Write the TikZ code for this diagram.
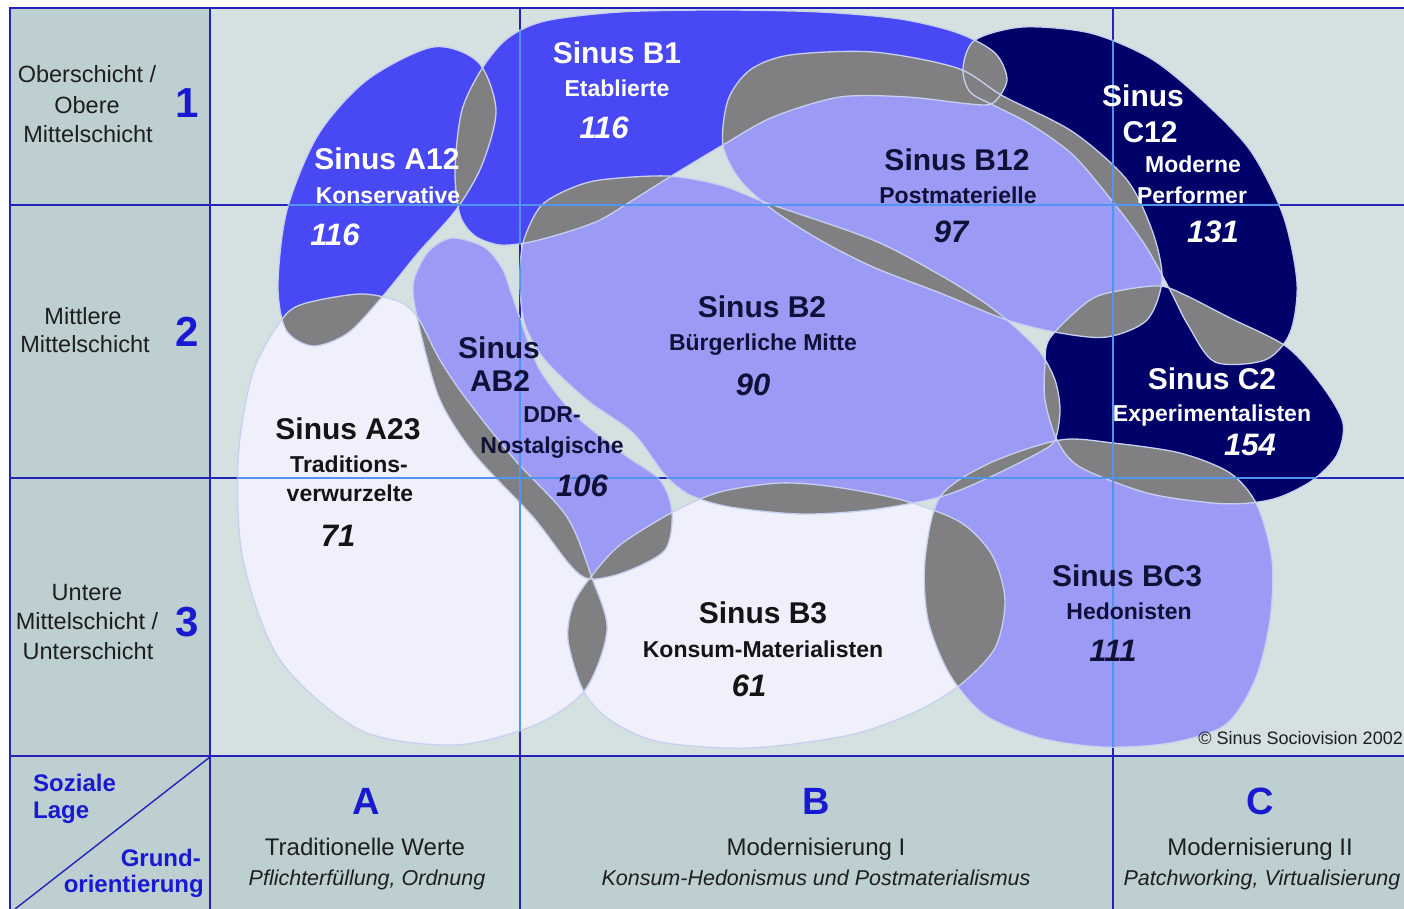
\documentclass[tikz,border=0pt]{standalone}
\usepackage{fontspec}
\setmainfont{Liberation Sans}
\definecolor{bgmain}{RGB}{212,225,224}
\definecolor{bgside}{RGB}{189,207,208}
\definecolor{royal}{RGB}{72,72,245}
\definecolor{navy}{RGB}{0,0,105}
\definecolor{lilac}{RGB}{155,155,245}
\definecolor{pale}{RGB}{240,240,252}
\definecolor{ovl}{RGB}{128,128,130}
\definecolor{edgec}{RGB}{200,208,240}
\definecolor{gridd}{RGB}{35,35,185}
\definecolor{gridl}{RGB}{80,150,240}
\definecolor{lblue}{RGB}{25,25,210}
\definecolor{dtxt}{RGB}{16,16,56}
\definecolor{btxt}{RGB}{20,20,20}
\definecolor{stxt}{RGB}{30,30,30}

% milieu outlines (pixel coordinates)
\def\pAa{plot[smooth cycle] coordinates {(433,47) (478,62) (496,110) (482,165) (456,210) (418,253) (383,296) (348,333) (313,346) (286,330) (278,285) (287,210) (318,135) (367,80)}}
\def\pBa{plot[smooth cycle] coordinates {(483,67) (508,38) (545,21) (620,12) (720,10) (820,12) (900,19) (958,33) (995,53) (1007,80) (993,103) (970,104) (907,97) (840,97) (773,117) (723,145) (673,175) (633,200) (600,220) (567,232) (530,242) (500,245) (475,236) (460,215) (455,170) (462,110)}}
\def\pBb{plot[smooth cycle] coordinates {(723,145) (728,100) (750,70) (790,55) (873,52) (957,68) (1003,96) (1073,132) (1127,180) (1153,233) (1162,280) (1147,320) (1107,337) (1060,333) (1007,320) (940,293) (873,267) (820,240) (773,210) (740,180)}}
\def\pCa{plot[smooth cycle] coordinates {(963,68) (975,40) (1023,27) (1090,33) (1150,58) (1200,98) (1250,150) (1283,215) (1297,283) (1290,333) (1265,360) (1215,362) (1188,325) (1170,290) (1145,245) (1113,202) (1073,155) (1030,124) (995,106) (970,92)}}
\def\pCb{plot[smooth cycle] coordinates {(1050,338) (1090,300) (1123,290) (1160,286) (1185,295) (1230,318) (1287,347) (1323,387) (1343,423) (1337,455) (1313,480) (1280,497) (1250,503) (1213,503) (1147,493) (1080,467) (1057,440) (1045,400) (1045,365)}}
\def\pBc{plot[smooth cycle] coordinates {(523,243) (540,207) (567,190) (600,180) (667,176) (720,185) (767,203) (873,240) (940,275) (985,303) (1015,327) (1040,352) (1055,380) (1060,410) (1055,440) (1040,452) (990,477) (940,497) (870,510) (800,514) (730,507) (690,495) (665,475) (633,433) (587,400) (545,360) (525,325) (520,285)}}
\def\pAB{plot[smooth cycle] coordinates {(452,238) (484,247) (502,268) (512,295) (523,327) (540,370) (575,415) (625,455) (660,480) (672,512) (665,550) (625,572) (590,579) (570,565) (533,517) (475,455) (440,400) (420,330) (413,285) (428,252)}}
\def\pAc{plot[smooth cycle] coordinates {(300,305) (360,294) (400,302) (418,318) (440,360) (467,400) (515,460) (567,517) (592,578) (607,630) (585,690) (535,725) (455,745) (360,730) (280,660) (243,560) (238,460) (252,375) (278,325)}}
\def\pBd{plot[smooth cycle] coordinates {(590,578) (620,545) (673,512) (720,492) (780,483) (835,487) (902,500) (960,522) (992,555) (1005,600) (995,648) (960,685) (915,712) (850,735) (750,748) (660,742) (610,720) (583,690) (568,640) (573,605)}}
\def\pBC{plot[smooth cycle] coordinates {(1060,440) (1113,443) (1180,453) (1230,473) (1257,505) (1272,560) (1270,620) (1255,680) (1225,725) (1170,743) (1104,747) (1040,738) (985,715) (950,675) (928,620) (925,560) (940,497) (990,463)}}

\newcommand{\ovlap}[2]{\begin{scope}\clip #1; \fill[ovl] #2; \end{scope}}

\tikzset{
  ttl/.style={inner sep=0pt, text height=21.5pt, text depth=0pt, font=\fontsize{30}{32}\selectfont\bfseries},
  sub/.style={inner sep=0pt, text height=16.5pt, text depth=0pt, font=\fontsize{23}{26}\selectfont\bfseries},
  num/.style={inner sep=0pt, text height=22pt, text depth=0pt, font=\fontsize{31}{34}\selectfont\bfseries\itshape},
  side/.style={inner sep=0pt, text height=17pt, text depth=0pt, text=stxt, font=\fontsize{23.5}{26}\selectfont},
  bign/.style={inner sep=0pt, text height=30pt, text depth=0pt, text=lblue, font=\fontsize{42}{44}\selectfont\bfseries},
  colh/.style={inner sep=0pt, text height=27pt, text depth=0pt, text=lblue, font=\fontsize{38}{40}\selectfont\bfseries},
  blt/.style={inner sep=0pt, text height=17pt, text depth=0pt, text=lblue, font=\fontsize{24}{26}\selectfont\bfseries},
  colsub/.style={inner sep=0pt, text height=17pt, text depth=0pt, text=stxt, font=\fontsize{24}{26}\selectfont},
  colit/.style={inner sep=0pt, text height=15.5pt, text depth=0pt, text=stxt, font=\fontsize{21.5}{24}\selectfont\itshape},
  cpy/.style={inner sep=0pt, text height=13pt, text depth=0pt, text=stxt, font=\fontsize{18}{20}\selectfont},
  edgeline/.style={draw=edgec, line width=1.3pt},
}

\begin{document}
\begin{tikzpicture}[x=1pt,y=-1pt]
\useasboundingbox (0,0) rectangle (1404,909);
\fill[white] (0,0) rectangle (1404,909);
\fill[bgside] (10,8) rectangle (210,909);
\fill[bgside] (210,756) rectangle (1404,909);
\fill[bgmain] (210,8) rectangle (1404,756);

% inner grid lines under the shapes
\draw[gridd, line width=1.4pt] (520,8) -- (520,909) (1113,8) -- (1113,909)
  (10,205) -- (1404,205) (10,478) -- (1404,478);

% milieu fills
\fill[pale] \pAc;
\fill[pale] \pBd;
\fill[lilac] \pAB;
\fill[lilac] \pBc;
\fill[lilac] \pBC;
\fill[lilac] \pBb;
\fill[royal] \pBa;
\fill[royal] \pAa;
\fill[navy] \pCa;
\fill[navy] \pCb;

% overlaps
\ovlap{\pAa}{\pBa}
\ovlap{\pAa}{\pAc}
\ovlap{\pBa}{\pBc}
\ovlap{\pBa}{\pBb}
\ovlap{\pBa}{\pCa}
\ovlap{\pBb}{\pCa}
\ovlap{\pBb}{\pBc}
\ovlap{\pBb}{\pCb}
\ovlap{\pCa}{\pCb}
\ovlap{\pBc}{\pCb}
\ovlap{\pBc}{\pAB}
\ovlap{\pBc}{\pBd}
\ovlap{\pBc}{\pBC}
\ovlap{\pCb}{\pBC}
\ovlap{\pAc}{\pAB}
\ovlap{\pAc}{\pBd}
\ovlap{\pAB}{\pBd}
\ovlap{\pBd}{\pBC}

% outlines
\path[edgeline] \pAc;
\path[edgeline] \pBd;
\path[edgeline] \pAB;
\path[edgeline] \pBc;
\path[edgeline] \pBC;
\path[edgeline] \pBb;
\path[edgeline] \pBa;
\path[edgeline] \pAa;
\path[edgeline] \pCa;
\path[edgeline] \pCb;

% light grid lines over the shapes
\begin{scope}
\clip \pAa \pBa \pBb \pCa \pCb \pBc \pAB \pAc \pBd \pBC;
\draw[gridl, line width=1.3pt] (520,8) -- (520,756) (1113,8) -- (1113,756)
  (210,205) -- (1404,205) (210,478) -- (1404,478);
\end{scope}

% frame
\draw[gridd, line width=1.6pt] (10,909) -- (10,8) -- (1404,8)
  (210,8) -- (210,909) (10,205) -- (210,205) (10,478) -- (210,478)
  (10,756) -- (1404,756) (520,756) -- (520,909) (1113,756) -- (1113,909);
\draw[gridd, line width=1.4pt] (15,909) -- (210,757);

% row labels
\node[side] (s1a) at (87,74) {Oberschicht /};
\node[side] (s1b) at (87,105) {Obere};
\node[side] (s1c) at (88,134) {Mittelschicht};
\node[bign] (n1) at (187,103) {1};
\node[side] (s2a) at (83,316) {Mittlere};
\node[side] (s2b) at (85,344) {Mittelschicht};
\node[bign] (n2) at (187,331) {2};
\node[side] (s3a) at (87,592) {Untere};
\node[side] (s3b) at (87,621) {Mittelschicht /};
\node[side] (s3c) at (88,651) {Unterschicht};
\node[bign] (n3) at (187,621) {3};

% corner labels
\node[blt, anchor=west] (soz) at (33,783) {Soziale};
\node[blt, anchor=west] (lage) at (33,810) {Lage};
\node[blt, anchor=east] (grund) at (201,858) {Grund-};
\node[blt, anchor=east] (orient) at (204,884) {orientierung};

% column labels
\node[colh] (ca) at (366,801) {A};
\node[colsub] (cat) at (365,847) {Traditionelle Werte};
\node[colit] (cai) at (367,878) {Pflichterfüllung, Ordnung};
\node[colh] (cb) at (816,801) {B};
\node[colsub] (cbt) at (816,847) {Modernisierung I};
\node[colit] (cbi) at (816,878) {Konsum-Hedonismus und Postmaterialismus};
\node[colh] (cc) at (1260,801) {C};
\node[colsub] (cct) at (1260,847) {Modernisierung II};
\node[colit] (cci) at (1262,878) {Patchworking, Virtualisierung};

\node[cpy, anchor=east] (copy) at (1403,738) {© Sinus Sociovision 2002};

% milieu labels
\node[ttl, text=white] (a12t) at (387,159) {Sinus A12};
\node[sub, text=white] (a12s) at (388,195) {Konservative};
\node[num, text=white] (a12n) at (335,235) {116};

\node[ttl, text=white] (b1t) at (617,53) {Sinus B1};
\node[sub, text=white] (b1s) at (617,88) {Etablierte};
\node[num, text=white] (b1n) at (604,128) {116};

\node[ttl, text=dtxt] (b12t) at (957,160) {Sinus B12};
\node[sub, text=dtxt] (b12s) at (958,195) {Postmaterielle};
\node[num, text=dtxt] (b12n) at (951,232) {97};

\node[ttl, text=white] (c12t) at (1143,96) {Sinus};
\node[ttl, text=white] (c12u) at (1150,132) {C12};
\node[sub, text=white] (c12s) at (1193,164) {Moderne};
\node[sub, text=white] (c12r) at (1192,195) {Performer};
\node[num, text=white] (c12n) at (1213,232) {131};

\node[ttl, text=dtxt] (b2t) at (762,307) {Sinus B2};
\node[sub, text=dtxt] (b2s) at (763,342) {Bürgerliche Mitte};
\node[num, text=dtxt] (b2n) at (753,384) {90};

\node[ttl, text=dtxt] (ab2t) at (499,348) {Sinus};
\node[ttl, text=dtxt] (ab2u) at (500,381) {AB2};
\node[sub, text=dtxt] (ab2s) at (552,414) {DDR-};
\node[sub, text=dtxt] (ab2r) at (552,445) {Nostalgische};
\node[num, text=dtxt] (ab2n) at (582,485) {106};

\node[ttl, text=btxt] (a23t) at (348,429) {Sinus A23};
\node[sub, text=btxt] (a23s) at (349,464) {Traditions-};
\node[sub, text=btxt] (a23r) at (350,493) {verwurzelte};
\node[num, text=btxt] (a23n) at (338,535) {71};

\node[ttl, text=white] (c2t) at (1212,379) {Sinus C2};
\node[sub, text=white] (c2s) at (1212,413) {Experimentalisten};
\node[num, text=white] (c2n) at (1250,444) {154};

\node[ttl, text=dtxt] (bc3t) at (1127,576) {Sinus BC3};
\node[sub, text=dtxt] (bc3s) at (1129,611) {Hedonisten};
\node[num, text=dtxt] (bc3n) at (1113,650) {111};

\node[ttl, text=btxt] (b3t) at (763,613) {Sinus B3};
\node[sub, text=btxt] (b3s) at (763,649) {Konsum-Materialisten};
\node[num, text=btxt] (b3n) at (749,685) {61};
\end{tikzpicture}
\end{document}
